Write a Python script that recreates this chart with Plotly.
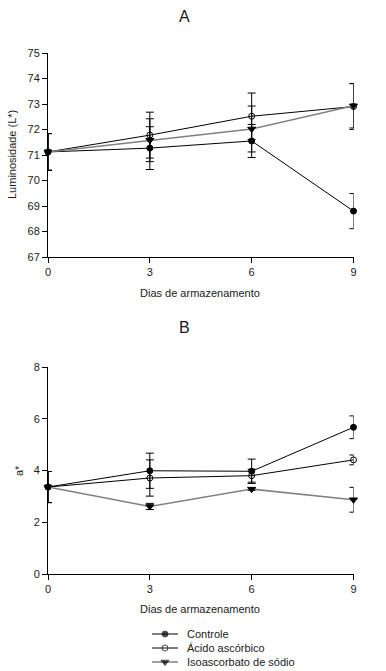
import plotly.graph_objects as go

dias = [0, 3, 6, 9]
x_ticks = [0, 3, 6, 9]

controle_L = [71.12, 71.27, 71.55, 68.80]
controle_L_err = [0.72, 0.84, 0.65, 0.69]
acido_L = [71.12, 71.78, 72.52, 72.90]
acido_L_err = [0.72, 0.90, 0.91, 0.90]
iso_L = [71.12, 71.58, 72.02, 72.93]
iso_L_err = [0.72, 0.84, 0.90, 0.87]

controle_a = [3.36, 3.99, 3.97, 5.67]
controle_a_err = [0.60, 0.68, 0.47, 0.44]
acido_a = [3.36, 3.71, 3.80, 4.41]
acido_a_err = [0.60, 0.70, 0.25, 0.19]
iso_a = [3.36, 2.61, 3.28, 2.87]
iso_a_err = [0.60, 0.12, 0.05, 0.48]

names = ["Controle", "Ácido ascórbico", "Isoascorbato de sódio"]
W, H = 386, 671
FONT = "Liberation Sans, Arial, sans-serif"
TXT = "#1a1a1a"

line_styles = [
    dict(color="black", width=1),
    dict(color="black", width=1),
    dict(color="#808080", width=1.5),
]
marker_styles = [
    dict(symbol="circle", size=6, color="black", line=dict(color="black", width=1)),
    dict(symbol="circle-open", size=6, color="black", line=dict(color="black", width=1)),
    dict(symbol="triangle-down", size=7, color="black", line=dict(color="black", width=1)),
]

fig = go.Figure()

def add_panel(series, errs, xa, ya):
    for i, (ys, es) in enumerate(zip(series, errs)):
        fig.add_trace(go.Scatter(
            x=dias, y=ys, mode="lines+markers", name=names[i],
            xaxis=xa, yaxis=ya, showlegend=False,
            error_y=dict(type="data", array=es, visible=True, color="black",
                         thickness=1, width=4),
            cliponaxis=False, line=line_styles[i], marker=marker_styles[i]))

add_panel([controle_L, acido_L, iso_L], [controle_L_err, acido_L_err, iso_L_err], "x", "y")
add_panel([controle_a, acido_a, iso_a], [controle_a_err, acido_a_err, iso_a_err], "x2", "y2")

# manual legend (sample line with centred marker per series)
for i, nm in enumerate(names):
    fig.add_trace(go.Scatter(
        x=[0, 0.5, 1], y=[i, i, i], mode="lines+markers", showlegend=False,
        xaxis="x3", yaxis="y3", cliponaxis=False, hoverinfo="skip",
        line=line_styles[i],
        marker=dict(marker_styles[i], size=[0, marker_styles[i]["size"], 0])))

x0, x1 = 48 / W, 353.5 / W
def py(p):
    return 1 - p / H

axis_common = dict(showline=True, linecolor="black", linewidth=1, ticks="outside",
                   ticklen=5, tickcolor="black", showgrid=False, zeroline=False,
                   tickfont=dict(family=FONT, size=11, color=TXT), mirror=False)
hidden = dict(visible=False, showgrid=False, zeroline=False, fixedrange=True)

fig.update_layout(
    width=W, height=H, margin=dict(l=0, r=0, t=0, b=0, autoexpand=False),
    paper_bgcolor="white", plot_bgcolor="rgba(0,0,0,0)",
    xaxis=dict(domain=[x0, x1], anchor="y", range=[0, 9], tickvals=x_ticks, **axis_common),
    yaxis=dict(domain=[py(257), py(53)], anchor="x", range=[67, 75], dtick=1, **axis_common),
    xaxis2=dict(domain=[x0, x1], anchor="y2", range=[0, 9], tickvals=x_ticks, **axis_common),
    yaxis2=dict(domain=[py(574), py(367)], anchor="x2", range=[0, 8], dtick=2, **axis_common),
    xaxis3=dict(domain=[152 / W, 178 / W], anchor="y3", range=[0, 1], **hidden),
    yaxis3=dict(domain=[py(669), py(627)], anchor="x3", range=[2.5, -0.5], **hidden),
    showlegend=False,
)

def ann(text, x, y, size=11, angle=0, xanchor="center"):
    fig.add_annotation(text=text, x=x / W, y=py(y), xref="paper", yref="paper",
                       showarrow=False, textangle=angle, xanchor=xanchor, yanchor="middle",
                       font=dict(family=FONT, size=size, color=TXT))

ann("A", 184, 17, size=16)
ann("B", 184, 327, size=16)
ann("Dias de armazenamento", 200, 293)
ann("Dias de armazenamento", 200, 609)
ann("Luminosidade (L*)", 12, 155, angle=-90)
ann("a*", 19, 471, angle=-90)
for i, nm in enumerate(names):
    ann(nm, 185, 634 + 14 * i, xanchor="left")

fig.write_html("out.html", config={"displayModeBar": False},
               post_script="document.body.style.margin='0px';document.body.style.overflow='hidden';")
